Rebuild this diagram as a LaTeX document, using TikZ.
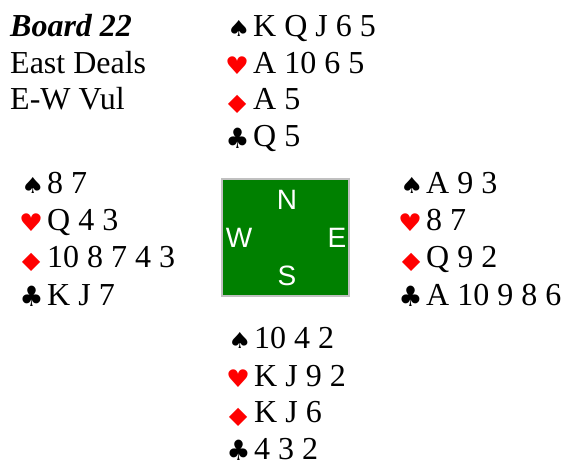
\documentclass[tikz,border=0pt]{standalone}
\usepackage{fontspec}
\usepackage{graphicx}
\setmainfont{Liberation Serif}
\newfontfamily\suitfont{DejaVu Sans}
\newfontfamily\dirfont{Liberation Sans}
\definecolor{felt}{RGB}{0,128,0}
\definecolor{rim}{RGB}{192,192,192}
\newcommand{\spadeglyph}{\scalebox{1.19}[1]{\suitfont\fontsize{22}{22}\selectfont ♠}}
\newcommand{\heartglyph}{\scalebox{1.1}[1]{\suitfont\fontsize{24.3}{24}\selectfont ♥}}
\newcommand{\diamglyph}{\scalebox{1.3}[1]{\suitfont\fontsize{25}{25}\selectfont ♦}}
\newcommand{\clubglyph}{\scalebox{0.95}[1]{\suitfont\fontsize{28}{28}\selectfont ♣}}
\tikzset{
  txt/.style={anchor=base west, inner sep=0pt, font=\fontsize{32}{37}\selectfont},
  suit/.style={anchor=base west, inner sep=0pt},
  redsuit/.style={suit, text=red},
  dir/.style={anchor=base, inner sep=0pt, text=white, font=\dirfont\fontsize{28}{28}\selectfont},
  table/.style={fill=felt, draw=rim, line width=2pt}
}
\begin{document}
\begin{tikzpicture}[x=1pt,y=-1pt]
\useasboundingbox (0,0) rectangle (565,462);
% info
\node[txt] (board) at (10,36.7) {\textbf{\textit{Board 22}}};
\node[txt] (dealer) at (10,74) {East Deals};
\node[txt] (vul) at (10,110) {E-W Vul};
% North
\node[suit] (ns) at (227,36.7) {\spadeglyph};
\node[txt] (nst) at (253,36.7) {K Q J 6 5};
\node[redsuit] (nh) at (225,75) {\heartglyph};
\node[txt] (nht) at (253,74) {A 10 6 5};
\node[redsuit] (nd) at (222.5,114) {\diamglyph};
\node[txt] (ndt) at (253,110) {A 5};
\node[suit] (nc) at (225.5,148.3) {\clubglyph};
\node[txt] (nct) at (253,146.7) {Q 5};
% West
\node[suit] (ws) at (21,193.5) {\spadeglyph};
\node[txt] (wst) at (47,193.5) {8 7};
\node[redsuit] (wh) at (19,232) {\heartglyph};
\node[txt] (wht) at (47,231) {Q 4 3};
\node[redsuit] (wd) at (16.5,272) {\diamglyph};
\node[txt] (wdt) at (47,268) {10 8 7 4 3};
\node[suit] (wc) at (19.5,307) {\clubglyph};
\node[txt] (wct) at (47,305.5) {K J 7};
% East
\node[suit] (es) at (400,193.5) {\spadeglyph};
\node[txt] (est) at (426,193.5) {A 9 3};
\node[redsuit] (eh) at (398,232) {\heartglyph};
\node[txt] (eht) at (426,231) {8 7};
\node[redsuit] (ed) at (396.5,272) {\diamglyph};
\node[txt] (edt) at (426,268) {Q 9 2};
\node[suit] (ec) at (398.5,307) {\clubglyph};
\node[txt] (ect) at (426,305.5) {A 10 9 8 6};
% South
\node[suit] (ss) at (228,348.5) {\spadeglyph};
\node[txt] (sst) at (254,348.5) {10 4 2};
\node[redsuit] (sh) at (226,387) {\heartglyph};
\node[txt] (sht) at (254,386) {K J 9 2};
\node[redsuit] (sd) at (223.5,426) {\diamglyph};
\node[txt] (sdt) at (254,422) {K J 6};
\node[suit] (sc) at (226.5,460.5) {\clubglyph};
\node[txt] (sct) at (254,459) {4 3 2};
% table
\draw[table] (222,179) rectangle (349,296);
\node[dir] (dn) at (287,210) {N};
\node[dir] (dw) at (239,248) {W};
\node[dir] (de) at (337,248) {E};
\node[dir] (ds) at (287,286) {S};
\end{tikzpicture}
\end{document}
